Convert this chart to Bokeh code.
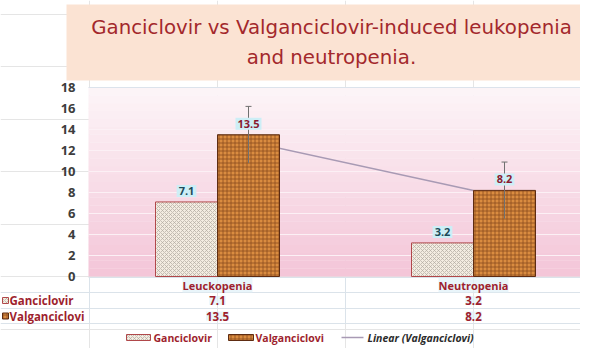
import numpy as np
from bokeh.plotting import figure
from bokeh.models import (Range1d, BoxAnnotation, Label, Whisker, TeeHead, ColumnDataSource)
from bokeh.core.properties import value
from bokeh.embed import file_html
from bokeh.resources import INLINE

# ---------------- data ----------------
categories = ["Leuckopenia", "Neutropenia"]
series_names = ["Ganciclovir", "Valganciclovi"]
ganciclovir = [7.1, 3.2]
valganciclovir = [13.5, 8.2]
valgan_err = [2.7, 2.7]
y_ticks = [0, 2, 4, 6, 8, 10, 12, 14, 16, 18]
title_lines = ["Ganciclovir vs Valganciclovir-induced leukopenia", "and neutropenia."]
trend_label = "Linear (Valganciclovi)"

# ---------------- layout helpers (canvas pixels -> data) ----------------
W, H = 580, 348
PLOT_LEFT = 88
PXU = 256.0      # px per category unit
PPU = 10.5       # px per y unit
CX0 = 217.0      # canvas x of first category centre
Y0 = 276.0       # canvas y of value 0


def fx(px):
    return (px - CX0) / PXU


def fy(py):
    return (Y0 - py) / PPU


BW = 62.0 / PXU
cat_x = np.arange(len(categories), dtype=float)
gan_x = cat_x - BW / 2
val_x = cat_x + BW / 2

FONT = "Open Sans"
DARKRED = "#9e1f2e"
GAN_STYLE = dict(fill_color="#f3ece1", line_color="#b0484a", line_width=1,
                 hatch_pattern="diagonal_cross", hatch_color="#b2aba0",
                 hatch_scale=4, hatch_weight=0.7)
VAL_STYLE = dict(fill_color="#da8c40", line_color="#5e2c12", line_width=1,
                 hatch_pattern="cross", hatch_color="#8a4a1e",
                 hatch_scale=4, hatch_weight=0.8)

p = figure(width=W, height=H, output_backend="svg", toolbar_location=None,
           x_range=Range1d(fx(0), fx(W)), y_range=Range1d(fy(H), fy(0)),
           x_axis_location=None, y_axis_location=None,
           min_border_left=0, min_border_right=0, min_border_top=0, min_border_bottom=0)
p.outline_line_color = None
p.background_fill_color = "white"
p.border_fill_color = "white"

# title box
p.add_layout(BoxAnnotation(left=fx(66), right=fx(W + 10), bottom=fy(80), top=fy(4),
                           fill_color="#fbe3d3", fill_alpha=1, line_color=None,
                           level="underlay"))

# pink gradient plot background
c_bot = np.array([0xf4, 0xc6, 0xd8])
c_top = np.array([0xfd, 0xf5, 0xf8])
nb = 24
top_val = y_ticks[-1]
for i in range(nb):
    t = (i + 0.5) / nb
    c = (c_bot * (1 - t) + c_top * t).astype(int)
    p.add_layout(BoxAnnotation(left=fx(PLOT_LEFT), right=fx(W + 10),
                               bottom=top_val * i / nb, top=top_val * (i + 1) / nb + 0.02,
                               fill_color="#%02x%02x%02x" % tuple(c), fill_alpha=1,
                               line_color=None, level="underlay"))

# grid lines
inner = y_ticks[1:-1]
p.segment(x0=[fx(PLOT_LEFT)] * len(inner), x1=[fx(W + 10)] * len(inner), y0=inner, y1=inner,
          line_color="#fcf0f5", line_width=1)
p.segment(x0=[fx(PLOT_LEFT)], x1=[fx(W + 10)], y0=[y_ticks[-1]], y1=[y_ticks[-1]],
          line_color="#dce3ec", line_width=1)

# y tick labels
p.text(x=[fx(75)] * len(y_ticks), y=y_ticks, text=[str(t) for t in y_ticks],
       text_align="right", text_baseline="middle", text_font=value(FONT),
       text_font_style="bold", text_font_size="13px", text_color="#3d3d3d")

# table lines
TL = "#dbe3ea"
p.segment(x0=[fx(PLOT_LEFT)], x1=[fx(W + 10)], y0=[fy(277)], y1=[fy(277)], line_color=TL, line_width=1)
rows_py = [292, 308, 323]
p.segment(x0=[fx(0)] * 3, x1=[fx(W + 10)] * 3, y0=[fy(v) for v in rows_py], y1=[fy(v) for v in rows_py],
          line_color=TL, line_width=1)
bounds = np.concatenate([cat_x - 0.5, [cat_x[-1] + 0.5]])
p.segment(x0=bounds, y0=[fy(277)] * len(bounds), x1=bounds, y1=[fy(323)] * len(bounds),
          line_color=TL, line_width=1)

# trend line (behind bars), positioned at category centres as in the source chart
p.line(x=cat_x, y=valganciclovir, line_color="#a89ab4", line_width=1.5)

# bars
p.vbar(x=gan_x, top=ganciclovir, bottom=0, width=BW, **GAN_STYLE)
p.vbar(x=val_x, top=valganciclovir, bottom=0, width=BW, **VAL_STYLE)

# error bars
vv = np.array(valganciclovir)
ee = np.array(valgan_err)
err_src = ColumnDataSource(dict(x=val_x, upper=vv + ee, lower=vv - ee))
p.add_layout(Whisker(source=err_src, base="x", upper="upper", lower="lower",
                     dimension="height", line_color="#707070", line_width=1,
                     upper_head=TeeHead(size=6, line_color="#707070", line_width=1),
                     lower_head=None, level="annotation"))

# value labels above bars
for xs, vals, col in ((gan_x, ganciclovir, "#1d4a58"), (val_x, valganciclovir, "#8a1a30")):
    for x, v in zip(xs, vals):
        p.add_layout(Label(x=x, y=v, text=f"{v}", text_align="center", text_baseline="bottom",
                           y_offset=5, text_font=FONT, text_font_style="bold",
                           text_font_size="11px", text_color=col,
                           background_fill_color="#cdeef6", background_fill_alpha=1,
                           padding=2))

# title
for i, line in enumerate(title_lines):
    p.add_layout(Label(x=fx(331), y=fy(27 + 30 * i), text=line, text_align="center",
                       text_baseline="middle", text_font="DejaVu Sans", text_font_size="19.8px",
                       text_color="#a3282c"))

# table text
TBG = "#dff1f8"
for x, name in zip(cat_x, categories):
    p.add_layout(Label(x=x, y=fy(284.5), text=name, text_align="center", text_baseline="middle",
                       text_font=FONT, text_font_style="bold", text_font_size="11px",
                       text_color=DARKRED, background_fill_color=TBG, background_fill_alpha=0.7))
for row_y, vals in ((300, ganciclovir), (315.5, valganciclovir)):
    for x, v in zip(cat_x, vals):
        p.add_layout(Label(x=x, y=fy(row_y), text=f"{v}", text_align="center",
                           text_baseline="middle", text_font=FONT, text_font_style="bold",
                           text_font_size="11.5px", text_color=DARKRED,
                           background_fill_color=TBG, background_fill_alpha=0.7))

# row labels with small swatches
for row_y, name, st in ((300, series_names[0], GAN_STYLE), (315.5, series_names[1], VAL_STYLE)):
    p.quad(left=[fx(2)], right=[fx(8)], bottom=[fy(row_y + 3)], top=[fy(row_y - 3)], **st)
    p.add_layout(Label(x=fx(9), y=fy(row_y), text=name, text_align="left", text_baseline="middle",
                       text_font=FONT, text_font_style="bold", text_font_size="11.5px",
                       text_color=DARKRED))

# legend
LY = 337
p.quad(left=[fx(126)], right=[fx(150)], bottom=[fy(LY + 3)], top=[fy(LY - 3)], **GAN_STYLE)
p.quad(left=[fx(228)], right=[fx(253)], bottom=[fy(LY + 3)], top=[fy(LY - 3)], **VAL_STYLE)
p.segment(x0=[fx(341)], x1=[fx(363)], y0=[fy(LY)], y1=[fy(LY)], line_color="#a89ab4", line_width=1.5)
for lx, txt, style, col in ((153, series_names[0], "bold", DARKRED),
                            (255, series_names[1], "bold", DARKRED),
                            (367, trend_label, "bold italic", "#2b2b2b")):
    p.add_layout(Label(x=fx(lx), y=fy(LY), text=txt, text_align="left", text_baseline="middle",
                       text_font=FONT, text_font_style=style, text_font_size="10.5px",
                       text_color=col))

open("out.html", "w").write(file_html(p, INLINE))
